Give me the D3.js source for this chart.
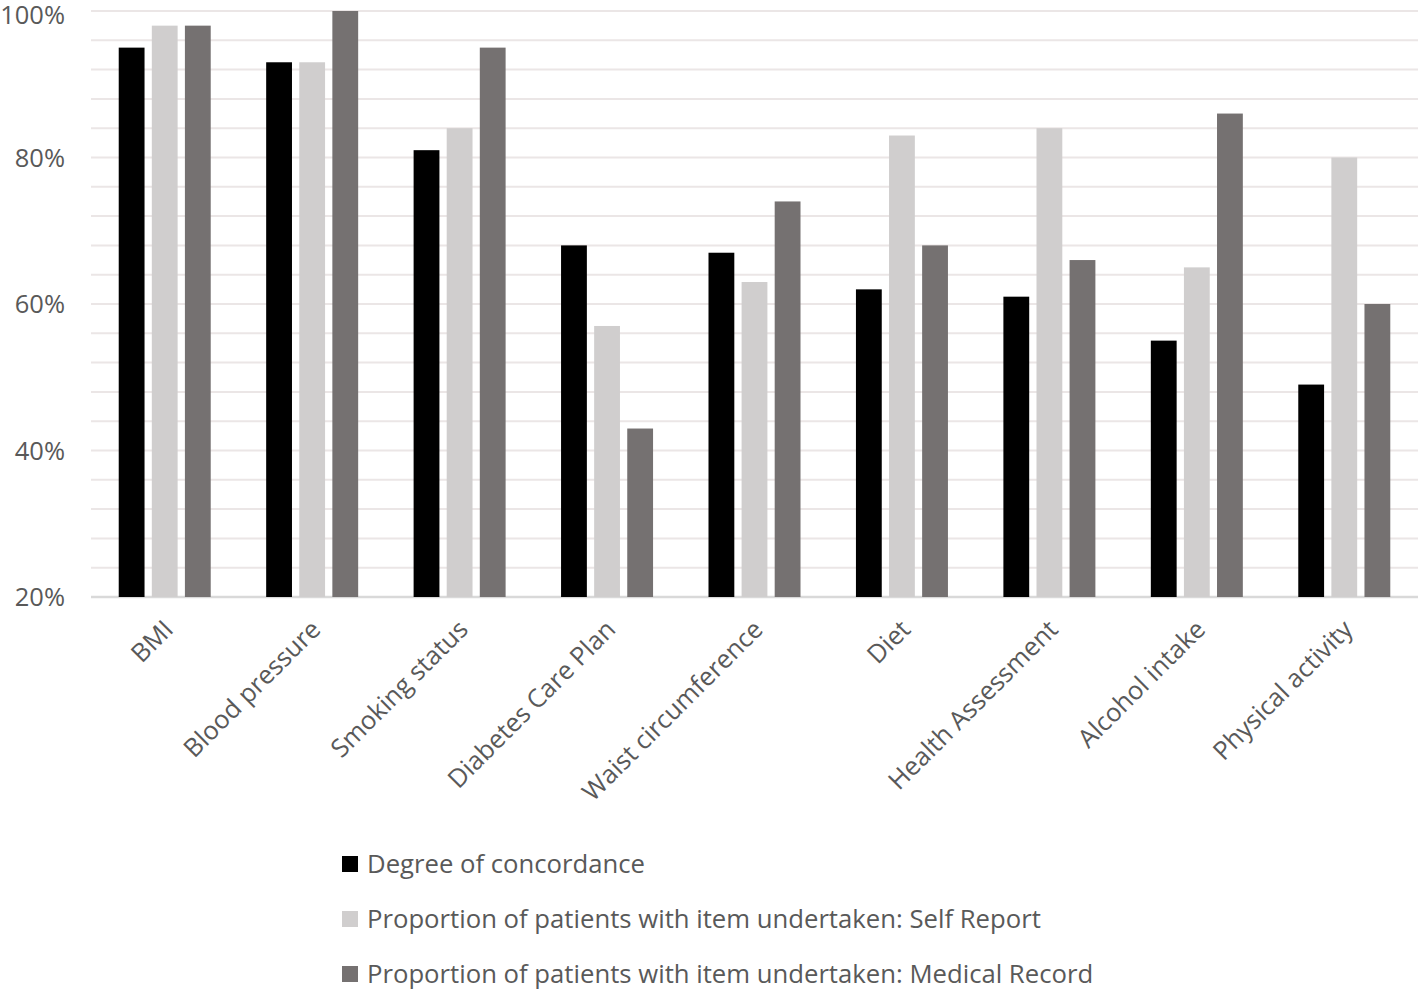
<!DOCTYPE html>
<html><head><meta charset="utf-8">
<script src="https://cdn.jsdelivr.net/npm/d3@7"></script>
<style>body{margin:0;background:#fff}svg{display:block}</style>
</head><body>
<svg id="chart" width="1418" height="990"></svg>
<script>
const categories = ["BMI","Blood pressure","Smoking status","Diabetes Care Plan","Waist circumference","Diet","Health Assessment","Alcohol intake","Physical activity"];
const seriesNames = ["Degree of concordance","Proportion of patients with item undertaken: Self Report","Proportion of patients with item undertaken: Medical Record"];
const concordance = [95,93,81,68,67,62,61,55,49];
const selfReport = [98,93,84,57,63,83,84,65,80];
const medicalRecord = [98,100,95,43,74,68,66,86,60];
const yTicks = [20,40,60,80,100];
const gridValues = d3.range(20,101,4);
const colors = ["#000000","#d0cece","#757171"];

const series = [concordance, selfReport, medicalRecord];
const svg = d3.select("#chart");
const font = "'Open Sans', sans-serif";
const mLeft = 91, mRight = 1418, mTop = 11, mBottom = 597;

const x = d3.scaleBand().domain(categories).range([mLeft,mRight]).paddingInner(0).paddingOuter(0);
const x1 = d3.scaleBand().domain([0,1,2]).range([x.bandwidth()/2-46, x.bandwidth()/2+46]).paddingInner(0.22).paddingOuter(0);
const y = d3.scaleLinear().domain([20,100]).range([mBottom, mTop]);

// gridlines
svg.append("g").selectAll("line").data(gridValues).join("line")
  .attr("x1", mLeft).attr("x2", mRight)
  .attr("y1", d=>y(d)).attr("y2", d=>y(d))
  .attr("stroke", d=> d===20 ? "#d9d9d9" : "#ebe6e6").attr("stroke-width", d=> d===20?2.5:2);

// bars
const groups = svg.append("g").selectAll("g").data(categories).join("g")
  .attr("transform", d=>`translate(${x(d)},0)`);
groups.selectAll("rect").data((d,i)=>series.map((s,k)=>({k, v:s[i]}))).join("rect")
  .attr("x", d=>x1(d.k)).attr("width", x1.bandwidth())
  .attr("y", d=>y(d.v)).attr("height", d=>y(20)-y(d.v))
  .attr("fill", d=>colors[d.k]);

// y axis labels
const yAxis = d3.axisLeft(y).tickValues(yTicks).tickFormat(d=>d+"%").tickSize(0).tickPadding(0);
const ya = svg.append("g").attr("transform","translate(65,0)").call(yAxis);
ya.select(".domain").remove();
ya.selectAll("text").attr("font-family", font).attr("font-size", 25.5).attr("fill","#595959")
  .attr("dy", d => d===100 ? "0.5em" : "0.35em");

// x axis labels
const xAxis = d3.axisBottom(x).tickSize(0).tickPadding(0);
const xa = svg.append("g").attr("transform",`translate(0,${mBottom})`).call(xAxis);
xa.select(".domain").remove();
xa.selectAll("text").attr("font-family", font).attr("font-size", 25.5).attr("fill","#595959")
  .attr("text-anchor","end").attr("dy",null).attr("y",null)
  .attr("transform","translate(10,34) rotate(-45)");

// legend
const leg = svg.append("g").selectAll("g").data(seriesNames).join("g")
  .attr("transform",(d,i)=>`translate(342,${864 + i*55})`);
leg.append("rect").attr("x",0).attr("y",-8).attr("width",16).attr("height",16).attr("fill",(d,i)=>colors[i]);
leg.append("text").attr("x",25).attr("y",0).attr("dy","0.35em").text(d=>d)
  .attr("font-family", font).attr("font-size", 25.7).attr("fill","#595959");
</script>
</body></html>
